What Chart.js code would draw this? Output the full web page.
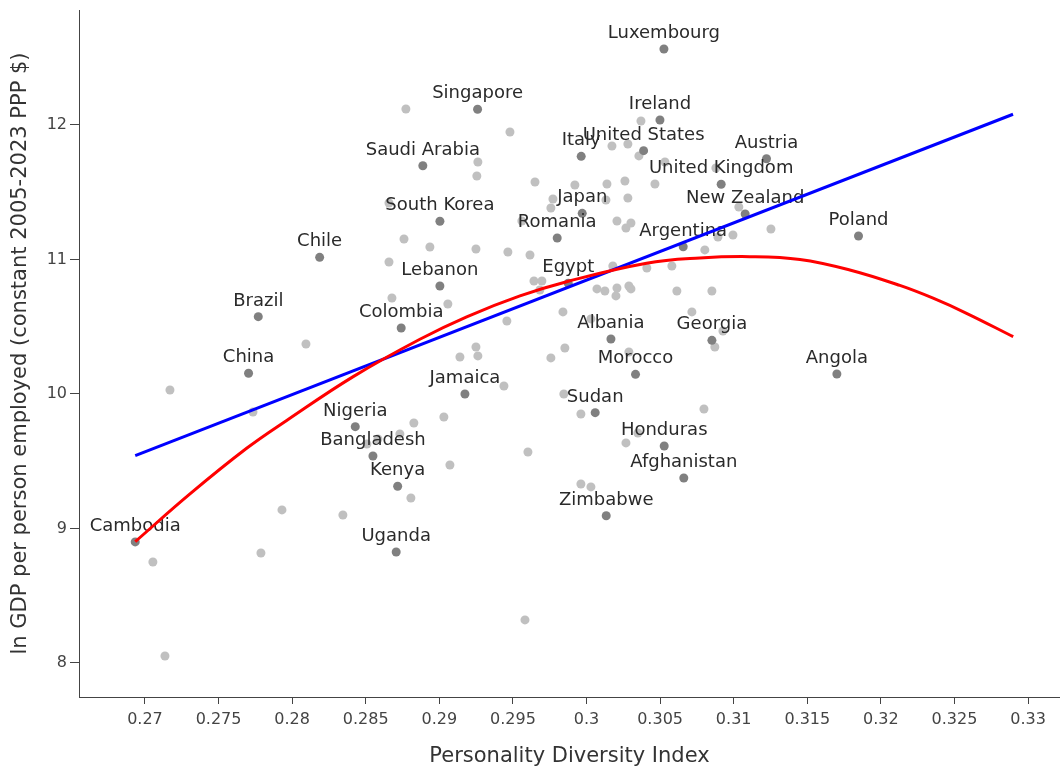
<!DOCTYPE html>
<html>
<head>
<meta charset="utf-8">
<title>Personality diversity and productivity</title>
<script src="https://cdn.jsdelivr.net/npm/chart.js@4.4.1/dist/chart.umd.min.js"></script>
<style>
  html, body { margin: 0; padding: 0; background: #fff; }
  #wrap { width: 1060px; height: 769px; }
</style>
</head>
<body>
<div id="wrap"><canvas id="myChart" width="1060" height="769"></canvas></div>
<script>
// labelled countries (dark dots)
var countries = ['Luxembourg', 'Singapore', 'Ireland', 'Italy', 'United States', 'Saudi Arabia',
    'Austria', 'United Kingdom', 'New Zealand', 'Poland', 'Japan', 'South Korea', 'Romania',
    'Argentina', 'Chile', 'Lebanon', 'Brazil', 'Colombia', 'China', 'Jamaica', 'Nigeria',
    'Egypt', 'Albania', 'Georgia', 'Morocco', 'Sudan', 'Angola', 'Bangladesh', 'Kenya',
    'Cambodia', 'Uganda', 'Honduras', 'Afghanistan', 'Zimbabwe'];
var countryX = [0.30526, 0.29260, 0.30499, 0.29964, 0.30388, 0.28888,
    0.31223, 0.30915, 0.31078, 0.31848, 0.29971, 0.29004, 0.29801,
    0.30657, 0.28187, 0.29004, 0.27770, 0.28741, 0.27704, 0.29174, 0.28429,
    0.29876, 0.30166, 0.30852, 0.30333, 0.30059, 0.31701, 0.28549, 0.28717,
    0.26934, 0.28707, 0.30528, 0.30661, 0.30134];
var countryY = [12.565, 12.117, 12.037, 11.767, 11.809, 11.697,
    11.749, 11.559, 11.338, 11.175, 11.343, 11.284, 11.160,
    11.095, 11.016, 10.803, 10.575, 10.491, 10.154, 10.000, 9.757,
    10.823, 10.409, 10.399, 10.146, 9.861, 10.149, 9.539, 9.314,
    8.900, 8.825, 9.613, 9.375, 9.095];

// unlabelled countries (light dots)
var otherX = [0.28773, 0.29480, 0.29262, 0.29255, 0.30370, 0.30173, 0.30281, 0.30356, 0.30533, 0.30879,
    0.29650, 0.29921, 0.30139, 0.30261, 0.30465, 0.28658, 0.29772, 0.29758, 0.30132, 0.30281,
    0.31035, 0.29561, 0.30207, 0.30302, 0.30268, 0.28760, 0.28936, 0.29249, 0.29466, 0.29616,
    0.28658, 0.31253, 0.30995, 0.30893, 0.30804, 0.30179, 0.30410, 0.30580, 0.29643, 0.29697,
    0.29683, 0.30071, 0.30125, 0.30207, 0.30200, 0.30288, 0.30302, 0.30614, 0.30852, 0.30716,
    0.29840, 0.30030, 0.29459, 0.28678, 0.29058, 0.30927, 0.30872, 0.29853, 0.29758, 0.30288,
    0.28094, 0.29249, 0.29140, 0.29262, 0.29439, 0.29846, 0.29962, 0.30798, 0.27170, 0.27734,
    0.29031, 0.28827, 0.28732, 0.28583, 0.28508, 0.30349, 0.30268, 0.29602, 0.29072, 0.28807,
    0.29962, 0.30030, 0.27931, 0.28345, 0.27054, 0.27788, 0.27136, 0.29582];
var otherY = [12.119, 11.948, 11.725, 11.621, 12.030, 11.844, 11.859, 11.770, 11.725, 11.680,
    11.576, 11.554, 11.561, 11.584, 11.561, 11.420, 11.450, 11.383, 11.442, 11.457,
    11.390, 11.286, 11.286, 11.271, 11.234, 11.152, 11.093, 11.078, 11.056, 11.033,
    10.981, 11.227, 11.182, 11.167, 11.071, 10.952, 10.937, 10.952, 10.840, 10.840,
    10.773, 10.781, 10.766, 10.788, 10.729, 10.803, 10.781, 10.766, 10.766, 10.610,
    10.610, 10.558, 10.543, 10.714, 10.669, 10.468, 10.349, 10.342, 10.268, 10.312,
    10.372, 10.349, 10.275, 10.283, 10.059, 10.000, 9.851, 9.888, 10.030, 9.866,
    9.829, 9.784, 9.703, 9.665, 9.628, 9.710, 9.636, 9.569, 9.472, 9.227,
    9.331, 9.309, 9.138, 9.100, 8.751, 8.818, 8.052, 8.320];

// fitted lines
var linearX = [0.26934, 0.32898];
var linearY = [9.541, 12.080];
var quadX = [0.26934, 0.27306, 0.27691, 0.27963, 0.28415, 0.28868, 0.29186, 0.29548, 0.29865,
    0.30408, 0.30770, 0.31110, 0.31450, 0.31789, 0.32129, 0.32355, 0.32582, 0.32899];
var quadY = [8.902, 9.257, 9.596, 9.803, 10.129, 10.407, 10.574, 10.729, 10.835,
    10.972, 11.011, 11.021, 11.000, 10.922, 10.807, 10.712, 10.600, 10.426];

var xTickLabels = ['0.27', '0.275', '0.28', '0.285', '0.29', '0.295', '0.3',
    '0.305', '0.31', '0.315', '0.32', '0.325', '0.33'];
var yTickValues = [8, 9, 10, 11, 12];

var fontName = '"DejaVu Sans", Verdana, sans-serif';

function toPoints(xs, ys) {
    var out = [];
    for (var i = 0; i < xs.length; i++) {
        out.push({ x: xs[i], y: ys[i] });
    }
    return out;
}

// country names over the dark dots, drawn before the fit lines
var countryLabels = {
    id: 'countryLabels',
    afterDatasetDraw: function (chart, args) {
        if (args.index !== 2) return;
        var ctx = chart.ctx;
        ctx.save();
        ctx.font = '18px ' + fontName;
        ctx.fillStyle = '#2a2a2a';
        ctx.textAlign = 'center';
        ctx.textBaseline = 'alphabetic';
        args.meta.data.forEach(function (pt, i) {
            ctx.fillText(countries[i], pt.x, pt.y - 11);
        });
        ctx.restore();
    }
};

const ctx = document.getElementById('myChart');

new Chart(ctx, {
    type: 'scatter',
    data: {
        datasets: [{
            label: 'Linear fit',
            data: toPoints(linearX, linearY),
            showLine: true,
            borderColor: '#0000ff',
            borderWidth: 3,
            pointRadius: 0,
            order: 1
        }, {
            label: 'Quadratic fit',
            data: toPoints(quadX, quadY),
            showLine: true,
            borderColor: '#ff0000',
            borderWidth: 3,
            pointRadius: 0,
            tension: 0.4,
            order: 0
        }, {
            label: 'Labelled',
            data: toPoints(countryX, countryY),
            backgroundColor: '#808080',
            borderWidth: 0,
            pointRadius: 4.5,
            order: 2
        }, {
            label: 'Other',
            data: toPoints(otherX, otherY),
            backgroundColor: '#c0c0c0',
            borderWidth: 0,
            pointRadius: 4.5,
            order: 3
        }]
    },
    options: {
        responsive: false,
        animation: false,
        devicePixelRatio: 1,
        layout: { autoPadding: false, padding: { top: 10, right: 0, left: 0, bottom: 0 } },
        plugins: {
            legend: { display: false },
            tooltip: { enabled: false }
        },
        scales: {
            x: {
                type: 'linear',
                min: 0.26552,
                max: 0.33217,
                afterBuildTicks: function (scale) {
                    scale.ticks = xTickLabels.map(function (t) { return { value: parseFloat(t) }; });
                },
                afterFit: function (scale) {
                    scale.height = 72;
                    scale.paddingLeft = 0;
                    scale.paddingRight = 0;
                },
                ticks: {
                    callback: function (v, i) { return xTickLabels[i]; },
                    font: { family: fontName, size: 16 },
                    color: '#444',
                    padding: 6,
                    maxRotation: 0,
                    autoSkip: false
                },
                grid: { drawOnChartArea: false, drawTicks: true, tickLength: 7, color: '#444', tickColor: '#444' },
                border: { display: true, color: '#444', width: 1 },
                title: {
                    display: true,
                    text: 'Personality Diversity Index',
                    font: { family: fontName, size: 21 },
                    color: '#333',
                    padding: { top: 0, bottom: 0 }
                }
            },
            y: {
                type: 'linear',
                min: 7.747,
                max: 12.855,
                afterBuildTicks: function (scale) {
                    scale.ticks = yTickValues.map(function (v) { return { value: v }; });
                },
                afterFit: function (scale) {
                    scale.width = 79;
                    scale.paddingTop = 0;
                    scale.paddingBottom = 0;
                },
                ticks: {
                    callback: function (v) { return String(v); },
                    font: { family: fontName, size: 16 },
                    color: '#444',
                    padding: 3
                },
                grid: { drawOnChartArea: false, drawTicks: true, tickLength: 9, color: '#444', tickColor: '#444' },
                border: { display: true, color: '#444', width: 1 },
                title: {
                    display: true,
                    text: 'ln GDP per person employed (constant 2005-2023 PPP $)',
                    font: { family: fontName, size: 21 },
                    color: '#333',
                    padding: { top: 8, bottom: 0 }
                }
            }
        }
    },
    plugins: [countryLabels]
});
</script>
</body>
</html>
